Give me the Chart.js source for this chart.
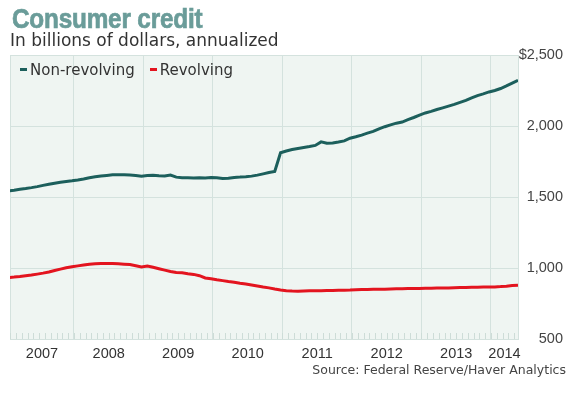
<!DOCTYPE html>
<html>
<head>
<meta charset="utf-8">
<script src="https://cdn.jsdelivr.net/npm/chart.js@4.4.1/dist/chart.umd.min.js"></script>
<style>
  html, body { margin: 0; padding: 0; background: #ffffff; }
  #wrap { position: relative; width: 569px; height: 398px; overflow: hidden; }
  canvas { position: absolute; left: 0; top: 0; }
  .title { position: absolute; left: 12px; top: 6px; font-family: "Liberation Sans", Arial, sans-serif; font-weight: bold; font-size: 27px; line-height: 1; color: #6a9c99; white-space: nowrap; transform: scaleX(0.9); transform-origin: 0 0; letter-spacing: -0.2px; -webkit-text-stroke: 0.7px #6a9c99; }
  .subtitle { position: absolute; left: 10px; top: 32px; font-family: "DejaVu Sans", Verdana, sans-serif; font-size: 17px; line-height: 1; color: #333333; white-space: nowrap; }
  .legend { position: absolute; left: 20px; top: 63px; font-family: "DejaVu Sans", Verdana, sans-serif; font-size: 15px; line-height: 1; color: #333333; white-space: nowrap; }
  .legend span.item { display: inline-block; margin-right: 15px; }
  .legend i { display: inline-block; width: 7px; height: 3px; vertical-align: 4px; margin-right: 3px; }
  .source { position: absolute; right: 3px; top: 364px; font-family: "DejaVu Sans", Verdana, sans-serif; font-size: 12.5px; line-height: 1; color: #444444; white-space: nowrap; }
</style>
</head>
<body>
<div id="wrap">
  <canvas id="c" width="569" height="398"></canvas>
  <div class="title">Consumer credit</div>
  <div class="subtitle">In billions of dollars, annualized</div>
  <div class="legend" id="legend"></div>
  <div class="source">Source: Federal Reserve/Haver Analytics</div>
</div>
<script>
// ---- Data (monthly, Jan 2007 .. May 2014), billions of dollars ----
const startYear = 2007;
const seriesNames = ['Non-revolving', 'Revolving'];
const seriesColors = ['#1c5f5c', '#e3141f'];
const nonRevolving = [
  1543,1548,1555,1560,1566,1573,1582,1590,1597,1604,1609,1614,
  1620,1627,1636,1642,1648,1652,1656,1657,1656,1655,1652,1647,
  1651,1653,1650,1648,1655,1640,1636,1636,1634,1635,1634,1637,
  1636,1630,1632,1638,1640,1643,1647,1654,1663,1672,1680,1812,
  1824,1834,1842,1849,1855,1863,1888,1878,1880,1887,1895,1914,
  1924,1936,1950,1962,1980,1995,2008,2020,2028,2045,2060,2077,
  2092,2103,2116,2128,2140,2152,2166,2180,2198,2214,2226,2240,
  2250,2264,2282,2302,2322
];
const revolving = [
  933,936,940,945,950,957,964,972,982,992,1002,1009,
  1015,1021,1027,1030,1032,1032,1031,1030,1027,1024,1016,1007,
  1014,1005,995,985,975,969,966,960,955,946,930,924,
  917,911,905,900,893,887,880,873,866,860,852,845,
  840,838,837,838,839,839,840,841,842,843,844,845,
  847,848,849,850,850,851,852,853,854,855,856,856,
  857,858,859,859,860,861,862,863,864,865,866,866,
  867,869,872,876,879
];
const yearLabels = ['2007','2008','2009','2010','2011','2012','2013','2014'];
const yTickValues = [500, 1000, 1500, 2000, 2500];
const yTickLabels = ['500', '1,000', '1,500', '2,000', '$2,500'];

// ---- Layout constants (months measured from Jan 2007 = 0) ----
const X_MIN = 0.96, X_MAX = 88.67, PT_OFFSET = 0.67;

function toPoints(arr) { return arr.map((v, k) => ({ x: k + PT_OFFSET, y: v })); }

// legend (HTML text)
const lg = document.getElementById('legend');
seriesNames.forEach((n, i) => {
  const s = document.createElement('span');
  s.className = 'item';
  const m = document.createElement('i');
  m.style.background = seriesColors[i];
  s.appendChild(m);
  s.appendChild(document.createTextNode(n));
  lg.appendChild(s);
});

const bgPlugin = {
  id: 'plotBg',
  beforeDraw(chart) {
    const { ctx, chartArea: a } = chart;
    ctx.save();
    ctx.fillStyle = '#eff5f2';
    ctx.fillRect(a.left, a.top, a.right - a.left, a.bottom - a.top);
    ctx.restore();
  },
  beforeDatasetsDraw(chart) {
    // monthly minor ticks at plot bottom
    const { ctx, chartArea: a } = chart;
    const xs = chart.scales.x;
    ctx.save();
    ctx.strokeStyle = '#cddcd7';
    ctx.lineWidth = 1;
    ctx.beginPath();
    for (let m = Math.ceil(X_MIN); m <= X_MAX; m++) {
      const px = Math.round(xs.getPixelForValue(m)) + 0.5;
      ctx.moveTo(px, a.bottom);
      ctx.lineTo(px, a.bottom - 6);
    }
    ctx.stroke();
    ctx.restore();
  }
};

const gridColor = '#d4e2de';
const labelFont = { family: '"Liberation Sans", Arial, sans-serif', size: 14.5 };

new Chart(document.getElementById('c'), {
  type: 'line',
  data: {
    datasets: [
      { label: seriesNames[0], data: toPoints(nonRevolving), borderColor: seriesColors[0], borderWidth: 3, pointRadius: 0, tension: 0, xAxisID: 'x', yAxisID: 'y' },
      { label: seriesNames[1], data: toPoints(revolving), borderColor: seriesColors[1], borderWidth: 3, pointRadius: 0, tension: 0, xAxisID: 'x', yAxisID: 'y' }
    ]
  },
  options: {
    responsive: false,
    animation: false,
    devicePixelRatio: 1,
    layout: { padding: { left: 10, top: 55, right: 6, bottom: 29 } },
    plugins: { legend: { display: false }, title: { display: false }, tooltip: { enabled: false } },
    scales: {
      x: {
        type: 'linear', min: X_MIN, max: X_MAX, position: 'bottom',
        afterBuildTicks(scale) {
          const t = [{ value: X_MIN }];
          for (let i = 1; i < yearLabels.length; i++) t.push({ value: i * 12 });
          t.push({ value: X_MAX });
          scale.ticks = t;
        },
        ticks: { display: false },
        grid: { color: gridColor, drawTicks: false, lineWidth: 1 },
        border: { display: false },
        afterFit(scale) { scale.height = 0; }
      },
      x2: {
        type: 'linear', min: X_MIN, max: X_MAX, position: 'bottom',
        afterBuildTicks(scale) {
          scale.ticks = yearLabels.map((_, i) => {
            const lo = Math.max(X_MIN, i * 12), hi = Math.min(X_MAX, (i + 1) * 12);
            return { value: (lo + hi) / 2 };
          });
        },
        ticks: {
          autoSkip: false, maxRotation: 0, padding: 6, color: '#333333', font: labelFont,
          callback(v, i) { return yearLabels[i]; }
        },
        grid: { display: false, drawTicks: false },
        border: { display: false },
        afterFit(scale) { scale.height = 30; }
      },
      y: {
        type: 'linear', position: 'right', min: 500, max: 2500,
        afterBuildTicks(scale) { scale.ticks = yTickValues.map(v => ({ value: v })); },
        ticks: {
          color: '#444444', font: labelFont, crossAlign: 'far', padding: 0,
          callback(v) { const i = yTickValues.indexOf(v); return i >= 0 ? yTickLabels[i] : ''; }
        },
        grid: { color: gridColor, drawTicks: false },
        border: { display: true, color: gridColor },
        afterFit(scale) { scale.width = 45; }
      }
    }
  },
  plugins: [bgPlugin]
});
</script>
</body>
</html>
